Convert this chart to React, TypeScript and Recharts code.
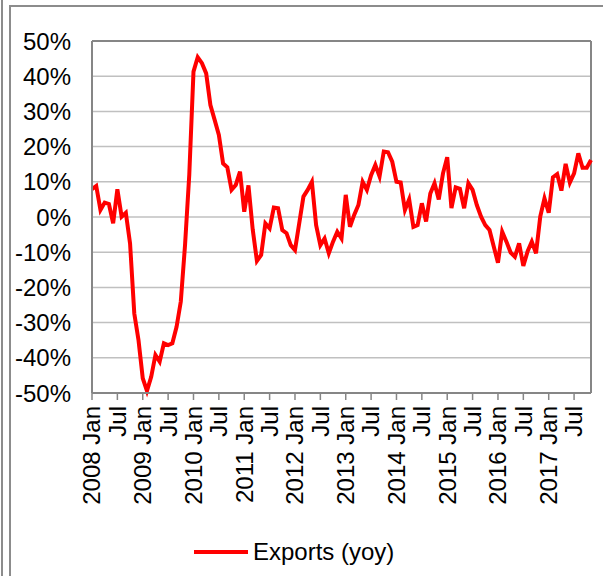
import React from 'react';
import { LineChart, Line, XAxis, YAxis, CartesianGrid, ReferenceLine, Legend } from 'recharts';

const years = ['2008', '2009', '2010', '2011', '2012', '2013', '2014', '2015', '2016', '2017'];
const monthNames = ['Jan', 'Feb', 'Mar', 'Apr', 'May', 'Jun', 'Jul', 'Aug', 'Sep', 'Oct', 'Nov', 'Dec'];

// Exports (yoy, %) by year, monthly
const exports2008 = [7.9, 8.8, 2.0, 4.1, 3.7, -1.8, 7.9, 0.1, 1.2, -7.5, -27.4, -35];
const exports2009 = [-45.8, -49.4, -45.4, -39.2, -41.1, -35.9, -36.4, -35.9, -31.2, -24, -8, 12];
const exports2010 = [41.3, 45.4, 43.7, 40.8, 31.8, 27.6, 23.3, 15.2, 14.1, 7.7, 9.1, 12.9];
const exports2011 = [1.5, 9.0, -3.5, -12.5, -10.8, -1.8, -3.2, 2.7, 2.5, -3.7, -4.6, -8];
const exports2012 = [-9.4, -1.8, 5.8, 7.7, 10, -2.3, -8, -6.1, -10.3, -7, -4.2, -6.1];
const exports2013 = [6.3, -2.8, 0.6, 3.4, 10, 7.7, 11.9, 14.8, 11.5, 18.6, 18.4, 15.7];
const exports2014 = [10, 9.8, 2, 5, -2.8, -2.3, 3.9, -1.3, 6.7, 9.6, 5, 12.4];
const exports2015 = [17, 2.5, 8.4, 8, 2.5, 9.6, 7.7, 3.4, 0.1, -2.3, -3.7, -8.4];
const exports2016 = [-13, -4.2, -7, -10.1, -11.3, -7.5, -13.9, -9.8, -7, -10.3, 0.1, 5.3];
const exports2017 = [1.2, 11.3, 12.2, 7.5, 15.1, 9.8, 12.4, 18.1, 14, 14, 16.2];

const yearlySeries = [exports2008, exports2009, exports2010, exports2011, exports2012, exports2013, exports2014, exports2015, exports2016, exports2017];

const yTicks = [-50, -40, -30, -20, -10, 0, 10, 20, 30, 40, 50];

const data: { month: string; exports: number }[] = [];
yearlySeries.forEach((vals, yi) => {
  vals.forEach((v, mi) => {
    data.push({ month: `${years[yi]} ${monthNames[mi]}`, exports: v });
  });
});

const lastMonth = data[data.length - 1].month;

const FONT = 'Liberation Sans, Arial, Helvetica, sans-serif';
const AXIS = '#868686';

const XTick = (props: any) => {
  const { x, y, payload } = props;
  const parts = String(payload.value).split(' ');
  const label = parts[1] === 'Jan' ? payload.value : parts[1];
  return (
    <text
      x={x}
      y={y}
      transform={`rotate(-90 ${x} ${y})`}
      textAnchor="end"
      dy="0.35em"
      fontSize={24}
      fill="#000"
      fontFamily={FONT}
    >
      {label}
    </text>
  );
};

const LegendContent = () => (
  <div style={{ height: 52, display: 'flex', alignItems: 'center', paddingLeft: 194, fontFamily: FONT }}>
    <svg width={54} height={8}>
      <line x1={0} y1={4} x2={54} y2={4} stroke="#ff0000" strokeWidth={4} />
    </svg>
    <span style={{ fontSize: 24, color: '#000', marginLeft: 5 }}>Exports (yoy)</span>
  </div>
);

export default function App() {
  return (
    <div style={{ position: 'absolute', left: 0, top: 0, width: 603, height: 576, background: '#fff' }}>
      <div style={{ position: 'absolute', left: 1, top: 0, width: 2, height: 576, background: '#8c8c8c' }} />
      <div style={{ position: 'absolute', left: 9, top: 5, width: 2, height: 571, background: '#8c8c8c' }} />
      <div style={{ position: 'absolute', left: 9, top: 5, width: 594, height: 2, background: '#8c8c8c' }} />
      <LineChart
        width={603}
        height={576}
        data={data}
        margin={{ top: 41, right: 12, left: 0, bottom: 0 }}
        style={{ fontFamily: FONT }}
      >
        <CartesianGrid vertical={false} stroke="#c0c0c0" strokeWidth={1.5} />
        <XAxis
          dataKey="month"
          interval={5}
          height={133}
          tickSize={7}
          tickMargin={6}
          tick={<XTick />}
          axisLine={{ stroke: AXIS, strokeWidth: 2 }}
          tickLine={{ stroke: AXIS, strokeWidth: 1.5 }}
        />
        <YAxis
          type="number"
          domain={[-50, 50]}
          ticks={yTicks}
          interval={0}
          width={92}
          tickLine={false}
          tickMargin={15}
          tickFormatter={(v: number) => `${v}%`}
          tick={{ fontSize: 24, fill: '#000', fontFamily: FONT }}
          axisLine={{ stroke: AXIS, strokeWidth: 2 }}
        />
        <ReferenceLine y={50} stroke={AXIS} strokeWidth={2} />
        <ReferenceLine x={lastMonth} stroke={AXIS} strokeWidth={2} />
        <Line
          type="linear"
          dataKey="exports"
          name="Exports (yoy)"
          stroke="#ff0000"
          strokeWidth={4}
          dot={false}
          isAnimationActive={false}
        />
        <Legend verticalAlign="bottom" height={50} content={<LegendContent />} wrapperStyle={{ left: 0, width: 603 }} />
      </LineChart>
    </div>
  );
}
